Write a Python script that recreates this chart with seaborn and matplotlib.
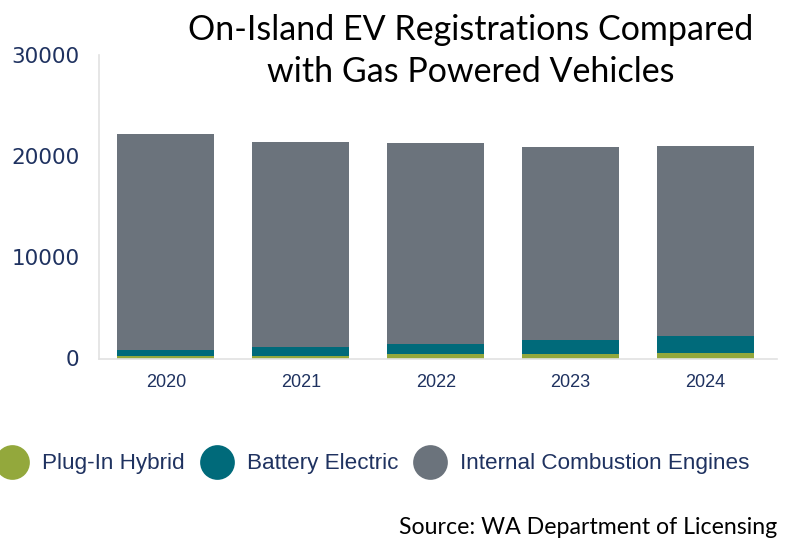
import numpy as np
import pandas as pd
import seaborn as sns
import matplotlib.pyplot as plt
from matplotlib.lines import Line2D

# 数据
years = ['2020', '2021', '2022', '2023', '2024']
plug_in_hybrid = [260, 280, 400, 420, 540]
battery_electric = [550, 830, 1000, 1410, 1710]
ice = [21350, 20320, 19870, 19105, 18725]

series_names = ['Plug-In Hybrid', 'Battery Electric', 'Internal Combustion Engines']
colors = ['#93a83c', '#006a7a', '#6b737c']
navy = '#1f3260'

sns.set_theme(style='white')
plt.rcParams['font.family'] = ['DejaVu Sans']

df = pd.DataFrame({'year': years, 'phev': plug_in_hybrid,
                   'bev': battery_electric, 'ice': ice})
df['bev_top'] = df['phev'] + df['bev']
df['ice_top'] = df['bev_top'] + df['ice']

fig = plt.figure(figsize=(8.04, 5.42), dpi=100)
ax = fig.add_axes([99 / 804, 1 - 358.5 / 542, (777 - 99) / 804, (358.5 - 55) / 542])

# 堆叠：先画总高度，再依次覆盖
for col, c in zip(['ice_top', 'bev_top', 'phev'], colors[::-1]):
    sns.barplot(data=df, x='year', y=col, color=c, width=0.72, ax=ax,
                saturation=1, edgecolor='none')

ax.set_xlim(-0.496, 4.53)
ax.set_ylim(0, 30000)
ax.set_yticks([0, 10000, 20000, 30000])
ax.set_yticklabels(['0', '10000', '20000', '30000'], fontsize=15.5, color=navy)
ax.set_xticks(range(len(years)))
ax.set_xticklabels(years, fontsize=13, color=navy,
                   family=['Liberation Sans Narrow', 'Liberation Sans'])
ax.tick_params(axis='y', length=0, pad=14)
ax.tick_params(axis='x', length=0, pad=11)
ax.set_xlabel('')
ax.set_ylabel('')
for s in ['top', 'right']:
    ax.spines[s].set_visible(False)
for s in ['left', 'bottom']:
    ax.spines[s].set_color('#e2e2e2')
    ax.spines[s].set_linewidth(1.2)

# 标题
fig.text(471 / 804, 1 - 51 / 542, 'On-Island EV Registrations Compared\nwith Gas Powered Vehicles',
         ha='center', va='center', fontsize=24.5, family='Lato', weight='normal',
         color='black', linespacing=1.4)

# 图例
handles = [Line2D([], [], marker='o', linestyle='none', markersize=25,
                  markerfacecolor=c, markeredgecolor='none') for c in colors]
fig.legend(handles, series_names, loc='center left', bbox_to_anchor=(-0.006, 1 - 464 / 542),
           ncol=3, frameon=False, handlelength=1.5, handletextpad=0.6,
           columnspacing=0.65, borderpad=0, borderaxespad=0,
           prop={'family': ['Liberation Sans Narrow', 'Liberation Sans'], 'size': 16.2},
           labelcolor=navy)

# 来源
fig.text(777 / 804, 1 - 528 / 542, 'Source: WA Department of Licensing',
         ha='right', va='center', fontsize=16.7, family='Lato', weight='normal',
         color='black')

fig.savefig('out.png', dpi=100)
